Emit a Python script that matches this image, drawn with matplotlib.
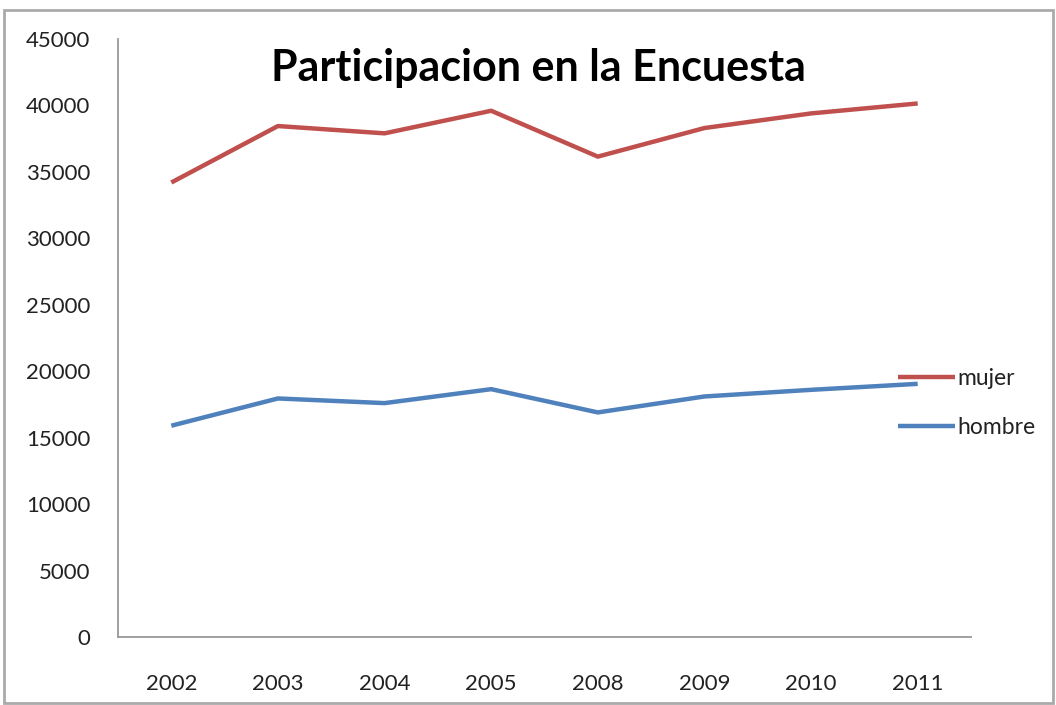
import matplotlib.pyplot as plt
from matplotlib.patches import Rectangle

# --- data ---
years = ['2002', '2003', '2004', '2005', '2008', '2009', '2010', '2011']
mujer = [34200, 38450, 37900, 39600, 36150, 38300, 39400, 40150]
hombre = [15900, 17950, 17600, 18650, 16900, 18100, 18600, 19050]
yticks = [0, 5000, 10000, 15000, 20000, 25000, 30000, 35000, 40000, 45000]

plt.rcParams['font.family'] = ['Lato', 'DejaVu Sans']

fig = plt.figure(figsize=(10.56, 7.05), dpi=100)
ax = fig.add_axes([118 / 1056, 1 - 637 / 705, (971 - 118) / 1056, (637 - 39) / 705])

x = range(len(years))
ax.plot(x, mujer, color='#C0504D', lw=3.2, label='mujer', solid_capstyle='butt')
ax.plot(x, hombre, color='#4F81BD', lw=3.2, label='hombre', solid_capstyle='butt')

ax.set_xlim(-0.5, len(years) - 0.5)
ax.set_ylim(0, 45000)
ax.set_xticks(list(x))
ax.set_xticklabels(years)
ax.set_yticks(yticks)
ax.set_yticklabels([str(v) for v in yticks])
ax.tick_params(length=0, labelsize=16, colors='#222222')
ax.tick_params(axis='x', pad=27)
ax.tick_params(axis='y', pad=20)

for side in ['top', 'right']:
    ax.spines[side].set_visible(False)
for side in ['left', 'bottom']:
    ax.spines[side].set_color('#999999')
    ax.spines[side].set_linewidth(1.3)

fig.text(538 / 1056, 1 - 68 / 705, 'Participacion en la Encuesta',
         ha='center', va='center', fontsize=31, fontweight='bold', color='black')

leg = fig.legend(loc='center left', bbox_to_anchor=(898 / 1056, 1 - 403 / 705),
                 frameon=False, fontsize=16.5, handlelength=2.5, handletextpad=0.1,
                 labelspacing=1.25, borderaxespad=0, borderpad=0)
for t in leg.get_texts():
    t.set_color('#222222')

# grey outer frame like the original chart area
fig.patches.append(Rectangle((4 / 1056, 2 / 705), 1049 / 1056, 693 / 705,
                             transform=fig.transFigure, fill=False,
                             edgecolor='#aaaaaa', lw=2))

fig.savefig('out.png', dpi=100)
